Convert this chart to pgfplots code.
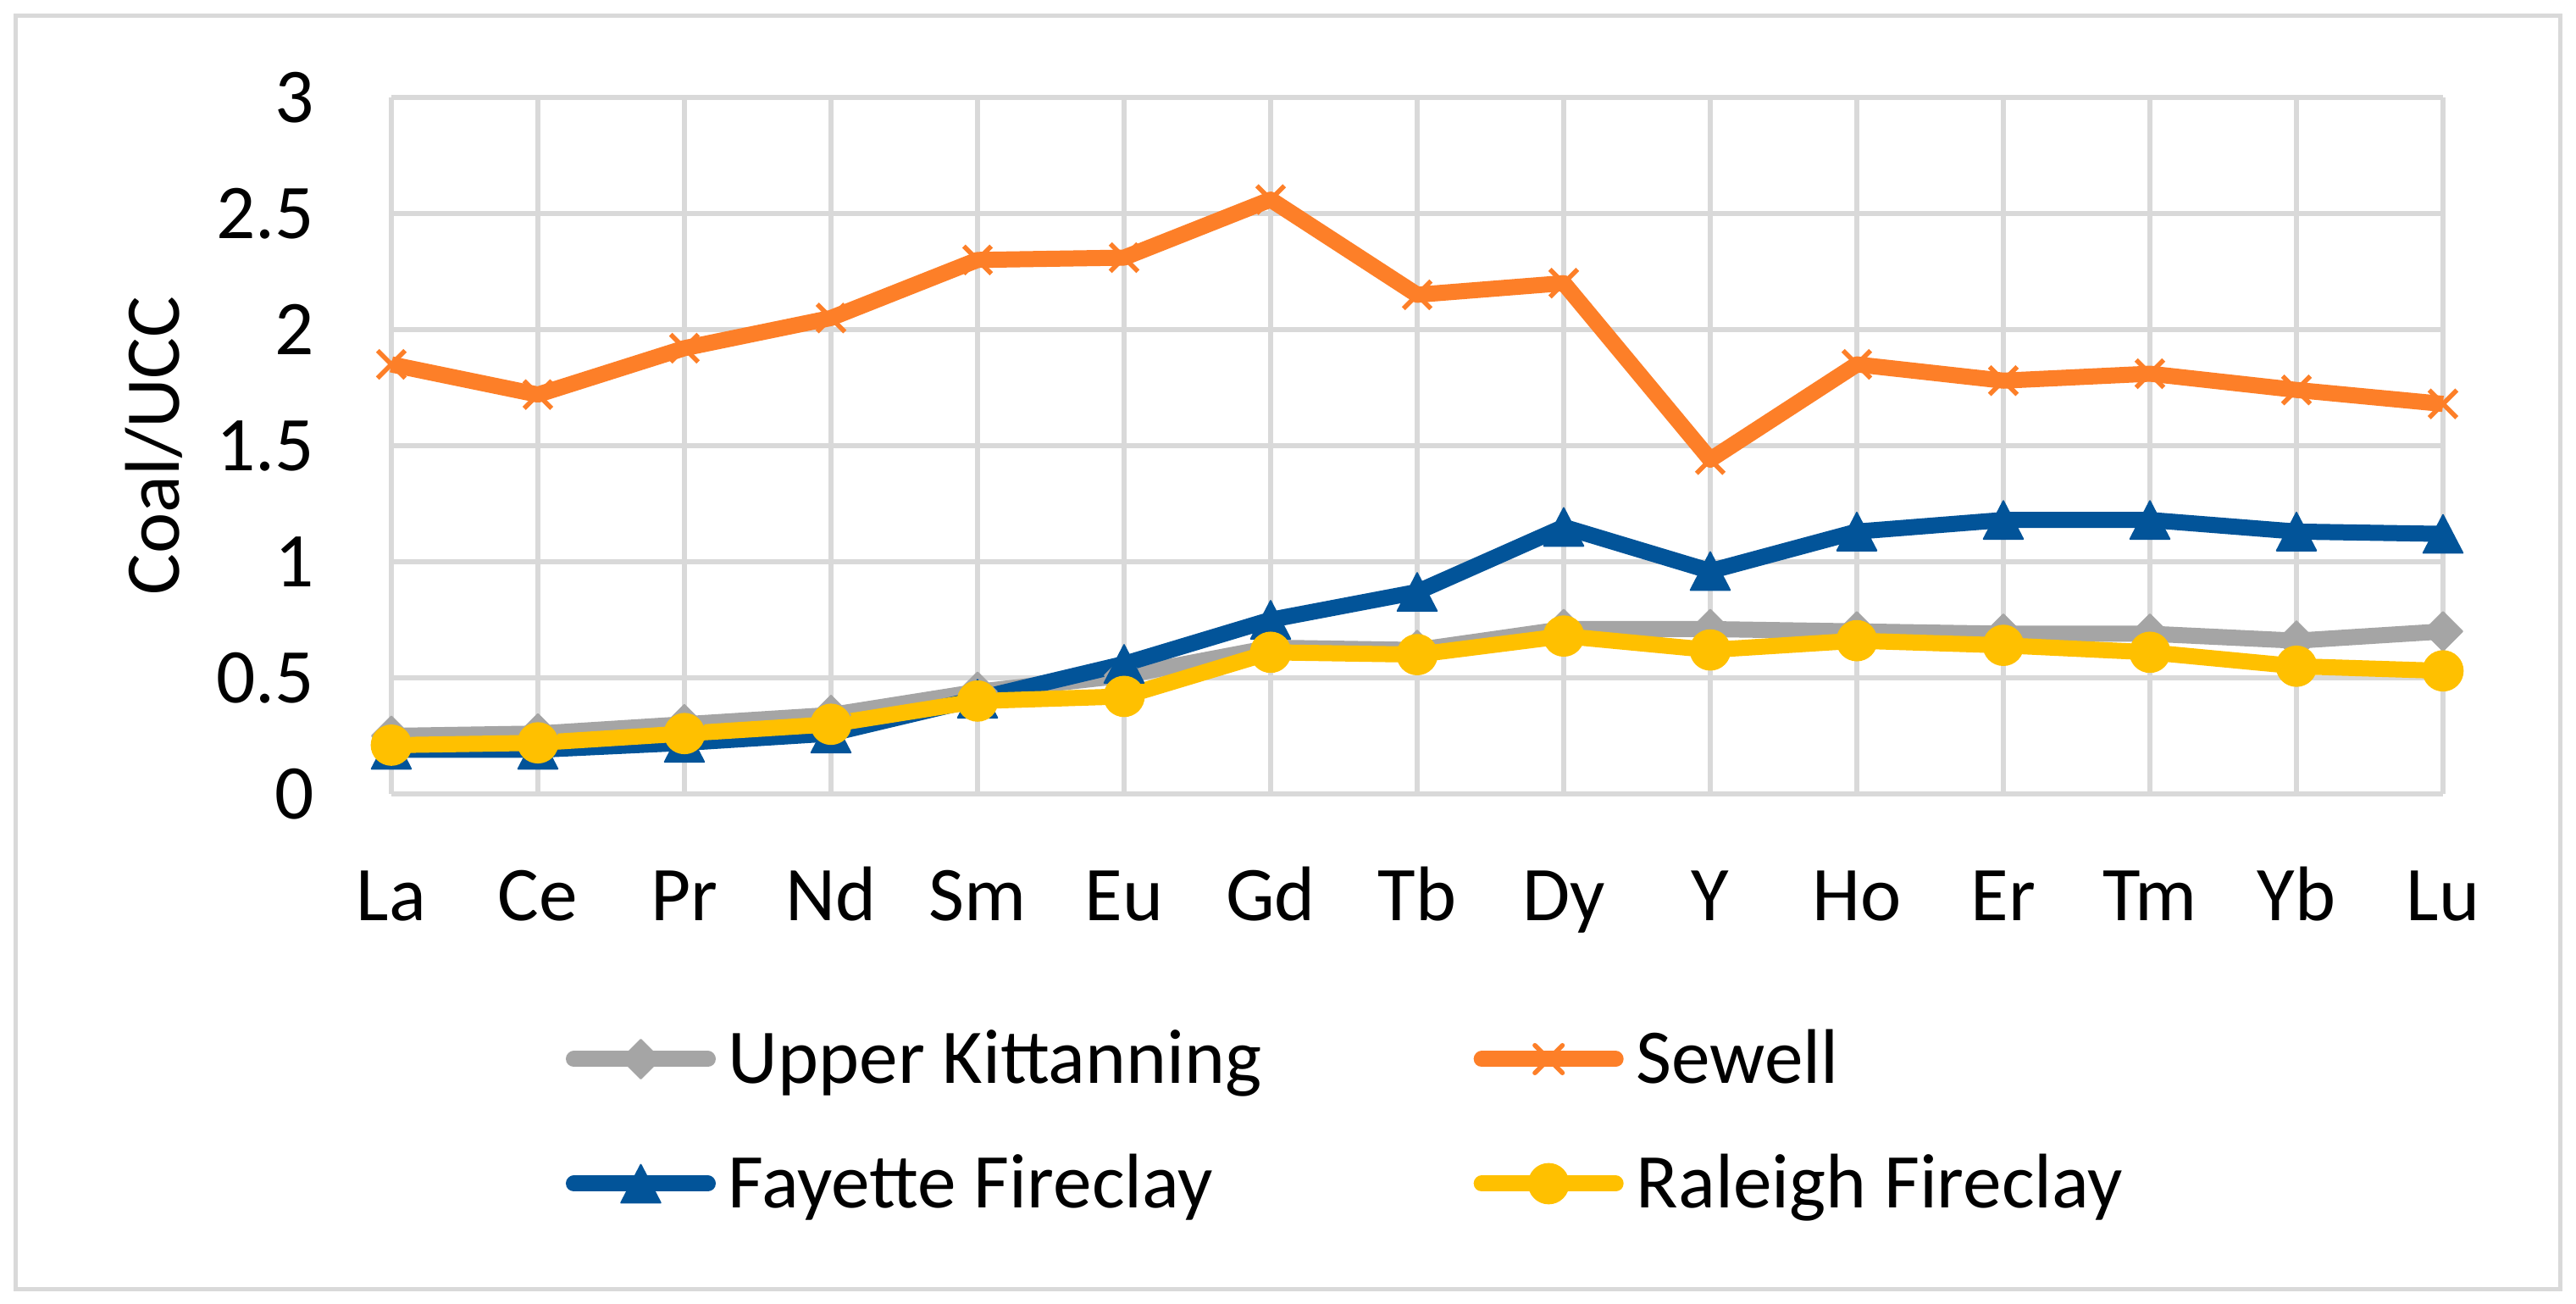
\documentclass[border=0pt]{standalone}
\usepackage{pgfplots}
\pgfplotsset{compat=1.18}
\usepackage{fontspec}
\setmainfont{Carlito}
\definecolor{ukgray}{HTML}{A5A5A5}
\definecolor{sworange}{HTML}{FD7F28}
\definecolor{fablue}{HTML}{025499}
\definecolor{raleigh}{HTML}{FFC000}
\definecolor{gridc}{HTML}{D9D9D9}
\newcommand{\bigfont}{\fontsize{26}{31}\selectfont}
\begin{document}
\begin{tikzpicture}
\fill[white] (-4.62,-6.02) rectangle (25.79,9.37);
\draw[gridc, line width=0.05cm] (-4.43,-5.85) rectangle (25.60,9.18);
\begin{axis}[
  at={(0,0)}, anchor=south west,
  scale only axis, width=24.22cm, height=8.22cm,
  xmin=0, xmax=14, ymin=0, ymax=3,
  clip=false,
  xtick={0,1,2,3,4,5,6,7,8,9,10,11,12,13,14},
  xticklabels={La,Ce,Pr,Nd,Sm,Eu,Gd,Tb,Dy,Y,Ho,Er,Tm,Yb,Lu},
  ytick={0,0.5,1,1.5,2,2.5,3},
  grid=major, grid style={gridc, line width=0.06cm},
  axis line style={draw=none},
  major tick length=0pt,
  tick label style={font=\bigfont},
  /pgf/number format/assume math mode=true,
  yticklabel style={anchor=east, inner sep=0pt, xshift=-0.9cm},
  xticklabel style={anchor=north, inner sep=0pt, text height=0.58cm, text depth=0.15cm, yshift=-0.91cm},
  ylabel={Coal/UCC},
  ylabel style={font=\bigfont, at={(axis description cs:0,0.5)}, anchor=center, yshift=2.80cm},
  legend columns=2,
  legend cell align=left,
  legend style={at={(axis description cs:0,0)}, anchor=north west, xshift=2.06cm, yshift=-2.77cm,
    draw=none, fill=none, inner sep=0pt, outer sep=0pt, font=\bigfont,
    nodes={inner sep=0pt, text height=0.65cm, text depth=0.22cm, anchor=base west},
    row sep=0.6cm,
    /tikz/every odd column/.append style={column sep=0.15cm},
    /tikz/every even column/.append style={column sep=2.5cm}},
  legend image code/.code={\draw[mark repeat=2, mark phase=2, line cap=round, #1] plot coordinates {(0cm,0.29cm) (0.79cm,0.29cm) (1.58cm,0.29cm)};},
  every axis plot/.append style={line width=0.19cm, line join=round},
]
\addplot[ukgray, mark=square*, mark size=0.163cm, mark options={solid, rotate=45, line width=0.5pt, fill=ukgray}] coordinates {
(0,0.25) (1,0.26) (2,0.30) (3,0.34) (4,0.44) (5,0.51) (6,0.63) (7,0.62) (8,0.71) (9,0.71) (10,0.70) (11,0.69) (12,0.69) (13,0.66) (14,0.70)};
\addlegendentry{Upper Kittanning}
\addplot[sworange, mark=x, mark size=0.23cm, mark options={solid, line width=0.055cm}] coordinates {
(0,1.85) (1,1.72) (2,1.92) (3,2.05) (4,2.30) (5,2.31) (6,2.56) (7,2.15) (8,2.20) (9,1.44) (10,1.85) (11,1.78) (12,1.81) (13,1.74) (14,1.68)};
\addlegendentry{Sewell}
\addplot[fablue, mark=triangle*, mark size=0.3cm, mark options={solid, xscale=0.9, yshift=-0.075cm, line width=0.5pt, fill=fablue}] coordinates {
(0,0.19) (1,0.19) (2,0.22) (3,0.26) (4,0.41) (5,0.56) (6,0.75) (7,0.87) (8,1.15) (9,0.96) (10,1.13) (11,1.18) (12,1.18) (13,1.13) (14,1.12)};
\addlegendentry{Fayette Fireclay}
\addplot[raleigh, mark=*, mark size=0.235cm, mark options={solid, line width=0.5pt, fill=raleigh}] coordinates {
(0,0.21) (1,0.22) (2,0.26) (3,0.30) (4,0.40) (5,0.42) (6,0.61) (7,0.60) (8,0.68) (9,0.62) (10,0.66) (11,0.64) (12,0.61) (13,0.55) (14,0.53)};
\addlegendentry{Raleigh Fireclay}
\end{axis}
\pgfresetboundingbox
\path[use as bounding box] (-4.62,-6.02) rectangle (25.79,9.37);
\end{tikzpicture}
\end{document}
